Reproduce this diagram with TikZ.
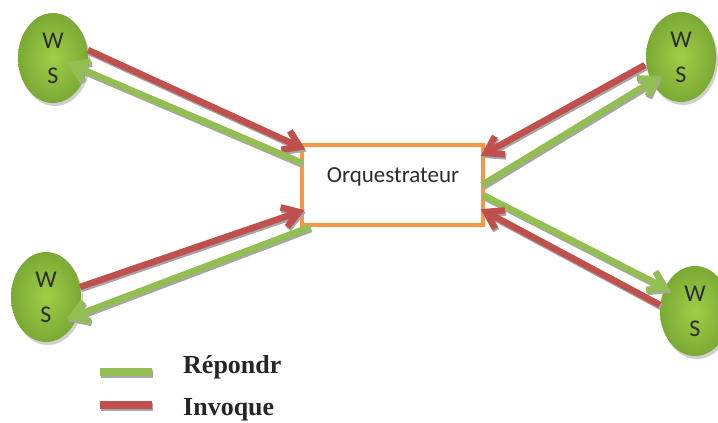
\documentclass[tikz,border=0pt]{standalone}
\usepackage{fontspec}
\setmainfont{Liberation Serif}
\newfontfamily\carl{Carlito}
\usetikzlibrary{calc,shapes.geometric,shadows}
\definecolor{lgreen}{RGB}{146,190,82}
\definecolor{lred}{RGB}{192,80,77}
\definecolor{borange}{RGB}{247,150,70}
\definecolor{wsin}{RGB}{160,206,72}
\definecolor{wsout}{RGB}{122,170,52}
\definecolor{txtgray}{RGB}{45,45,45}
\tikzset{
  shd/.style={draw=black!35, transform canvas={shift={(1.2pt,-2pt)}}},
  ws/.style={ellipse, minimum width=70pt, minimum height=90pt, inner sep=0pt,
    inner color=wsin, outer color=wsout,
    drop shadow={shadow xshift=2pt, shadow yshift=-3pt, fill=black!30, opacity=0.6},
    align=center, text=txtgray, font=\carl\fontsize{24}{35}\selectfont},
  orch/.style={rectangle, draw=borange, line width=3.5pt, fill=white,
    minimum width=181pt, minimum height=80pt, inner sep=0pt},
  inv/.style={draw=lred, line width=6.5pt},
  rep/.style={draw=lgreen, line width=6.5pt},
  legline/.style={line width=7.5pt},
  legtext/.style={anchor=base west, font=\bfseries\fontsize{26}{30}\selectfont, text=black!85, inner sep=0pt},
}
% one layer of a connector with open chevron head
\newcommand\arrlayer[3]{%
  \draw[#1] ($(#3)!3pt!(#2)$) -- (#2);
  \draw[#1,line join=miter] ($(#3)!19pt!33:(#2)$) -- (#3) -- ($(#3)!19pt!-33:(#2)$);}
\newcommand\arrconn[3]{\arrlayer{#1,shd}{#2}{#3}\arrlayer{#1}{#2}{#3}}
\newcommand\legconn[3]{%
  \draw[#1,shd] (#2) -- (#3);
  \draw[#1] (#2) -- (#3);}
\begin{document}
\begin{tikzpicture}[x=1pt,y=-1pt]
\useasboundingbox (0,0) rectangle (718,423);
\clip (0,0) rectangle (718,423);
\fill[white] (0,0) rectangle (718,423);

% web services
\node[ws] (tl) at (53,58) {W\\S};
\node[ws] (tr) at (681,57) {W\\S};
\node[ws] (bl) at (46,297) {W\\S};
\node[ws] (br) at (695,311) {W\\S};

% orchestrator
\node[orch] (o) at (392.5,185) {};
\node[anchor=base, font=\carl\fontsize{23}{26}\selectfont, text=txtgray, inner sep=0pt] (ot) at (393,182) {Orquestrateur};

% endpoints
\coordinate (tlr1) at (88,50);   \coordinate (tlr2) at (300,147);
\coordinate (tlg1) at (302,163); \coordinate (tlg2) at (72,65);
\coordinate (trr1) at (645,65);  \coordinate (trr2) at (486,153);
\coordinate (trg1) at (482,185); \coordinate (trg2) at (656,79);
\coordinate (brg1) at (483,195); \coordinate (brg2) at (665,288);
\coordinate (brr1) at (660,305); \coordinate (brr2) at (486,212);
\coordinate (blr1) at (80,287);  \coordinate (blr2) at (299,212);
\coordinate (blg1) at (310,227); \coordinate (blg2) at (72,317);

\arrconn{inv}{tlr1}{tlr2}
\arrconn{rep}{tlg1}{tlg2}
\arrconn{inv}{trr1}{trr2}
\arrconn{rep}{trg1}{trg2}
\arrconn{rep}{brg1}{brg2}
\arrconn{inv}{brr1}{brr2}
\arrconn{inv}{blr1}{blr2}
\arrconn{rep}{blg1}{blg2}

% legend
\coordinate (lg1) at (100,372); \coordinate (lg2) at (152,372);
\coordinate (lr1) at (100,405); \coordinate (lr2) at (152,405);
\legconn{legline,draw=lgreen}{lg1}{lg2}
\legconn{legline,draw=lred}{lr1}{lr2}
\node[legtext] (trep) at (183,373) {Répondr};
\node[legtext] (tinv) at (183,415) {Invoque};
\end{tikzpicture}
\end{document}
